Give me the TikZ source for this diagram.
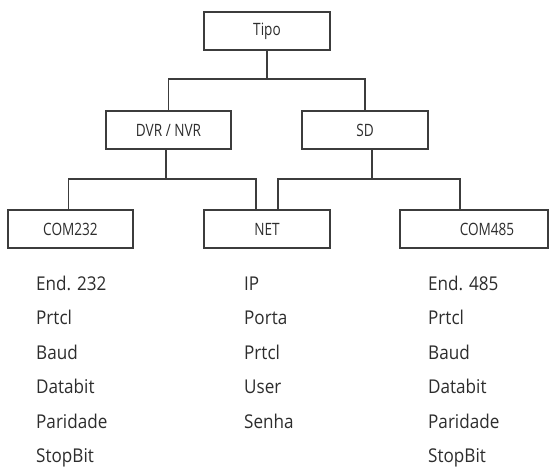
\documentclass[tikz,border=0pt]{standalone}
\usepackage{fontspec}
\setmainfont{Open Sans}
\newfontfamily\boxfont[FakeStretch=0.8]{Open Sans}
\newfontfamily\itemfont[FakeStretch=0.9]{Open Sans}
\usetikzlibrary{positioning,calc}
\definecolor{menuline}{RGB}{60,60,60}
\definecolor{menutext}{RGB}{45,45,45}

\begin{document}
\begin{tikzpicture}[
  x=1pt,y=-1pt,
  menubox/.style={draw=menuline,line width=1.2pt,fill=white,minimum width=125pt,minimum height=38pt,
    inner sep=0pt,font=\boxfont\fontsize{17}{20}\selectfont,text=menutext},
  item/.style={anchor=base west,inner sep=0pt,font=\itemfont\fontsize{19}{22}\selectfont,text=menutext},
  link/.style={draw=menuline,line width=1.2pt}
]
\useasboundingbox (0,0) rectangle (549,467);

% top level
\node[menubox,minimum width=126pt] (tipo) at (267,31) {Tipo};

% second level
\node[menubox] (dvr) at (168.5,130) {DVR / NVR};
\node[menubox,minimum width=126pt] (sd) at (365,130) {SD};

% third level
\node[menubox] (com232) at (70.5,229) {COM232};
\node[menubox,minimum width=126pt] (net) at (267,229) {NET};
\node[menubox,minimum width=148pt] (com485) at (474,229) {\hspace*{26pt}COM485};

% connectors
\coordinate (bus1) at (0,79);
\coordinate (bus2) at (0,179);
\draw[link] (tipo.south) -- (tipo.south |- bus1);
\draw[link] (dvr.north) |- (bus1 -| sd.north) -- (sd.north);

\draw[link] ($(dvr.south)+(-2.5,0)$) -- ($(dvr.south |- bus2)+(-2.5,0)$);
\draw[link] ($(com232.north)+(-2,0)$) |- ($(net.north |- bus2)+(-11,0)$) -- ($(net.north)+(-11,0)$);

\draw[link] ($(sd.south)+(7,0)$) -- ($(sd.south |- bus2)+(7,0)$);
\draw[link] ($(net.north)+(11,0)$) |- ($(com485.north |- bus2)+(-14,0)$) -- ($(com485.north)+(-14,0)$);

% parameter lists
\foreach \txt [count=\i] in {End. 232,Prtcl,Baud,Databit,Paridade,StopBit}
  \node[item] (par232-\i) at (36,{290+34.5*(\i-1)}) {\txt};
\foreach \txt [count=\i] in {IP,Porta,Prtcl,User,Senha}
  \node[item] (parnet-\i) at (244,{290+34.5*(\i-1)}) {\txt};
\foreach \txt [count=\i] in {End. 485,Prtcl,Baud,Databit,Paridade,StopBit}
  \node[item] (par485-\i) at (428,{290+34.5*(\i-1)}) {\txt};

\end{tikzpicture}
\end{document}
